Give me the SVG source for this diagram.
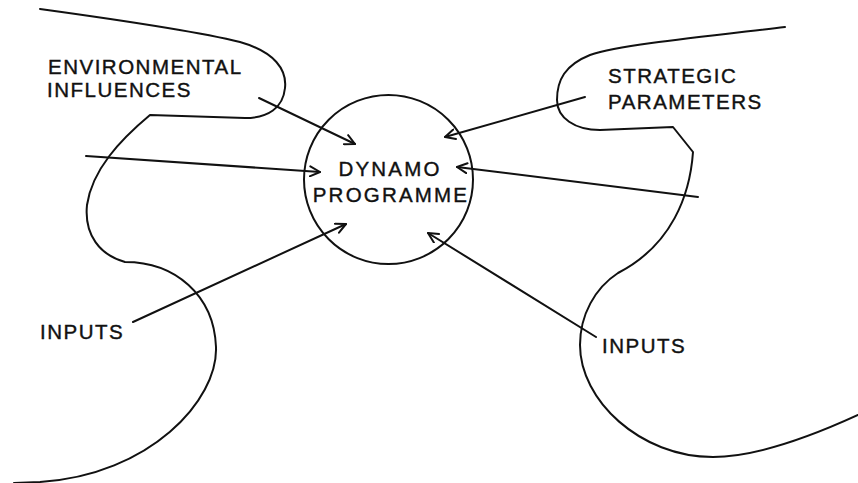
<svg xmlns="http://www.w3.org/2000/svg" width="858" height="483" viewBox="0 0 858 483">
<style>
.ln{fill:none;stroke:#111;stroke-width:2;stroke-linecap:round;stroke-linejoin:round}
.tx{font-family:"Liberation Sans",Arial,sans-serif;font-size:20.5px;letter-spacing:1.5px;fill:#111;stroke:#111;stroke-width:0.4}
.c{text-anchor:middle;letter-spacing:2.2px}
</style>
<defs>
<marker id="ah" viewBox="0 0 12 12" refX="11" refY="6" markerWidth="12" markerHeight="12" markerUnits="userSpaceOnUse" orient="auto">
<path d="M1,1 L11,6 L1,11" fill="none" stroke="#111" stroke-width="2" stroke-linecap="round" stroke-linejoin="round"/>
</marker>
</defs>
<rect width="858" height="483" fill="#fff"/>
<g id="left-boundary">
<path class="ln" d="M40,9 C120,20 200,32 240,42 C275,52 287,70 285,88 C283,108 268,118 245,118 L150,115 C120,140 92,170 87,205 C84,235 100,255 125,262 C175,262 214,295 216,347 C218,400 150,475 40,482 L14,483"/>
</g>
<g id="right-boundary">
<path class="ln" d="M785,27 C700,37 620,45 590,55 C565,65 557,80 557,100 C557,118 575,130 600,130 L673,127 L693,152 C690,195 672,245 618,273 C595,288 580,315 580,345 C580,400 640,457 713,457 C755,457 810,437 858,415"/>
</g>
<g id="dynamo">
<circle class="ln" cx="388.5" cy="179.5" r="84.5"/>
<text class="tx c" x="390" y="176">DYNAMO</text>
<text class="tx c" x="391" y="202">PROGRAMME</text>
</g>
<g id="environmental">
<text class="tx" x="48" y="74">ENVIRONMENTAL</text>
<text class="tx" x="47" y="97">INFLUENCES</text>
</g>
<g id="strategic">
<text class="tx" x="608" y="83">STRATEGIC</text>
<text class="tx" x="608" y="109">PARAMETERS</text>
</g>
<g id="inputs-left">
<text class="tx" x="40" y="339">INPUTS</text>
</g>
<g id="inputs-right">
<text class="tx" x="602" y="353">INPUTS</text>
</g>
<g id="connectors">
<line class="ln" x1="259" y1="98" x2="355" y2="144" marker-end="url(#ah)"/>
<line class="ln" x1="86" y1="156" x2="320" y2="172" marker-end="url(#ah)"/>
<line class="ln" x1="133" y1="322" x2="346" y2="224" marker-end="url(#ah)"/>
<line class="ln" x1="585" y1="97" x2="445" y2="137" marker-end="url(#ah)"/>
<line class="ln" x1="698" y1="197" x2="457" y2="167" marker-end="url(#ah)"/>
<line class="ln" x1="596" y1="337" x2="428" y2="233" marker-end="url(#ah)"/>
</g>
</svg>
